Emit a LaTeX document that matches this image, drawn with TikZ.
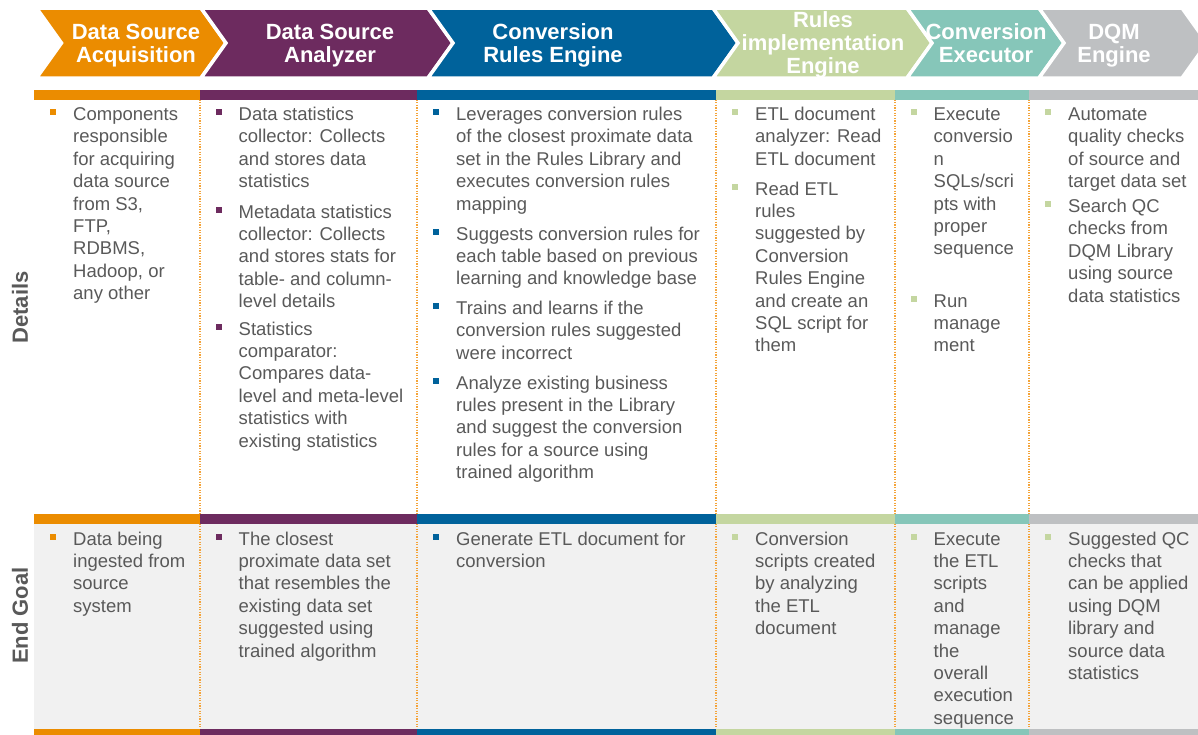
\documentclass[tikz,border=0pt]{standalone}
\usepackage{fontspec}
\setmainfont{Liberation Sans}

\definecolor{corange}{RGB}{235,140,0}
\definecolor{cpurple}{RGB}{109,43,95}
\definecolor{cblue}{RGB}{0,98,155}
\definecolor{cgreen}{RGB}{196,214,160}
\definecolor{cteal}{RGB}{134,198,185}
\definecolor{cgrey}{RGB}{190,192,194}
\definecolor{ctext}{RGB}{89,89,89}
\definecolor{cbg}{RGB}{241,241,241}
\definecolor{cdots}{RGB}{244,164,58}

% multi-line text block whose baseline is the first line's baseline
\newcommand{\bodyblock}[1]{\parbox[t]{300pt}{\raggedright #1}}
\newcommand{\headblock}[1]{\parbox[t]{240pt}{\centering #1}}

\begin{document}
\begin{tikzpicture}[x=1pt,y=-1pt,
  body/.style={font=\fontsize{18.5}{22.4}\selectfont, text=ctext, inner sep=0pt, anchor=base west},
  bsq/.style={rectangle, minimum size=6pt, inner sep=0pt},
  head/.style={font=\fontsize{22}{23}\selectfont\bfseries, text=white, inner sep=0pt, anchor=base},
  rowlabel/.style={font=\fontsize{22}{24}\selectfont\bfseries, text=ctext, rotate=90, inner sep=0pt},
  chevfill/.style={draw=white, line width=3.5pt, line join=miter},
  sepline/.style={draw=cdots, line width=1.3pt, dash pattern=on 1.2pt off 1.4pt}]

\useasboundingbox (0,0) rectangle (1198,734);

\begin{scope}
\clip (0,0) rectangle (1198,734);

% process chevrons
\foreach \xa/\xb/\c in {36.5/201/corange, 201/428/cpurple, 428/713/cblue,
                        713/907/cgreen, 907/1039/cteal, 1039/1182/cgrey}
  \filldraw[chevfill, fill=\c] (\xa,8) -- (\xb,8) -- (\xb+25,43) -- (\xb,78)
      -- (\xa,78) -- (\xa+25,43) -- cycle;

% shaded end-goal row
\fill[cbg] (34,524) rectangle (1198,729);

% dotted column separators
\foreach \x in {200,417,716,895,1029}
  \draw[sepline] (\x,99.5) -- (\x,729);

% coloured column bars
\foreach \xa/\xb/\c in {34/200/corange, 200/417/cpurple, 417/716/cblue,
                        716/895/cgreen, 895/1029/cteal, 1029/1198/cgrey} {
  \fill[\c] (\xa,89.5) rectangle (\xb,99.5);
  \fill[\c] (\xa,513.5) rectangle (\xb,524);
  \fill[\c] (\xa,729) rectangle (\xb,740);
}
\end{scope}

% chevron titles
\node[head] (h1) at (136,39.3) {\headblock{Data Source\\Acquisition}};
\node[head] (h2) at (330,39.3) {\headblock{Data Source\\Analyzer}};
\node[head] (h3) at (553,39.3) {\headblock{Conversion\\Rules Engine}};
\node[head] (h4) at (823,27) {\headblock{Rules\\implementation\\Engine}};
\node[head] (h5) at (986,39.3) {\headblock{Conversion\\Executor}};
\node[head] (h6) at (1114,39.3) {\headblock{DQM\\Engine}};

% row labels
\node[rowlabel] (ldet) at (20,307.5) {Details};
\node[rowlabel] (lend) at (20,615.5) {End Goal};

% ---- Details row ----
\node[bsq, fill=corange] (b11) at (52.5,112) {};
\node[body] (t11) at (73,120.5) {\bodyblock{Components\\responsible\\for acquiring\\data source\\from S3,\\FTP,\\RDBMS,\\Hadoop, or\\any other}};

\node[bsq, fill=cpurple] (b21) at (218.5,112) {};
\node[body] (t21) at (238.5,120.5) {\bodyblock{Data statistics\\collector: Collects\\and stores data\\statistics}};
\node[bsq, fill=cpurple] (b22) at (218.5,209.5) {};
\node[body] (t22) at (238.5,218) {\bodyblock{Metadata statistics\\collector: Collects\\and stores stats for\\table- and column-\\level details}};
\node[bsq, fill=cpurple] (b23) at (218.5,326.5) {};
\node[body] (t23) at (238.5,335) {\bodyblock{Statistics\\comparator:\\Compares data-\\level and meta-level\\statistics with\\existing statistics}};

\node[bsq, fill=cblue] (b31) at (435.5,112) {};
\node[body] (t31) at (456,120.5) {\bodyblock{Leverages conversion rules\\of the closest proximate data\\set in the Rules Library and\\executes conversion rules\\mapping}};
\node[bsq, fill=cblue] (b32) at (435.5,231.5) {};
\node[body] (t32) at (456,240) {\bodyblock{Suggests conversion rules for\\each table based on previous\\learning and knowledge base}};
\node[bsq, fill=cblue] (b33) at (435.5,306) {};
\node[body] (t33) at (456,314.5) {\bodyblock{Trains and learns if the\\conversion rules suggested\\were incorrect}};
\node[bsq, fill=cblue] (b34) at (435.5,380.5) {};
\node[body] (t34) at (456,389) {\bodyblock{Analyze existing business\\rules present in the Library\\and suggest the conversion\\rules for a source using\\trained algorithm}};

\node[bsq, fill=cgreen] (b41) at (734.5,112) {};
\node[body] (t41) at (755,120.5) {\bodyblock{ETL document\\analyzer: Read\\ETL document}};
\node[bsq, fill=cgreen] (b42) at (734.5,186.5) {};
\node[body] (t42) at (755,195) {\bodyblock{Read ETL\\rules\\suggested by\\Conversion\\Rules Engine\\and create an\\SQL script for\\them}};

\node[bsq, fill=cgreen] (b51) at (913.5,112) {};
\node[body] (t51) at (933.5,120.5) {\bodyblock{Execute\\conversio\\n\\SQLs/scri\\pts with\\proper\\sequence}};
\node[bsq, fill=cgreen] (b52) at (913.5,298.5) {};
\node[body] (t52) at (933.5,307) {\bodyblock{Run\\manage\\ment}};

\node[bsq, fill=cgreen] (b61) at (1048,112) {};
\node[body] (t61) at (1068,120.5) {\bodyblock{Automate\\quality checks\\of source and\\target data set}};
\node[bsq, fill=cgreen] (b62) at (1048,204) {};
\node[body] (t62) at (1068,212.5) {\bodyblock{Search QC\\checks from\\DQM Library\\using source\\data statistics}};

% ---- End goal row ----
\node[bsq, fill=corange] (e1b) at (52.5,536.5) {};
\node[body] (e1) at (73,545) {\bodyblock{Data being\\ingested from\\source\\system}};
\node[bsq, fill=cpurple] (e2b) at (218.5,536.5) {};
\node[body] (e2) at (238.5,545) {\bodyblock{The closest\\proximate data set\\that resembles the\\existing data set\\suggested using\\trained algorithm}};
\node[bsq, fill=cblue] (e3b) at (435.5,536.5) {};
\node[body] (e3) at (456,545) {\bodyblock{Generate ETL document for\\conversion}};
\node[bsq, fill=cgreen] (e4b) at (734.5,536.5) {};
\node[body] (e4) at (755,545) {\bodyblock{Conversion\\scripts created\\by analyzing\\the ETL\\document}};
\node[bsq, fill=cgreen] (e5b) at (913.5,536.5) {};
\node[body] (e5) at (933.5,545) {\bodyblock{Execute\\the ETL\\scripts\\and\\manage\\the\\overall\\execution\\sequence}};
\node[bsq, fill=cgreen] (e6b) at (1048,536.5) {};
\node[body] (e6) at (1068,545) {\bodyblock{Suggested QC\\checks that\\can be applied\\using DQM\\library and\\source data\\statistics}};

\end{tikzpicture}
\end{document}
